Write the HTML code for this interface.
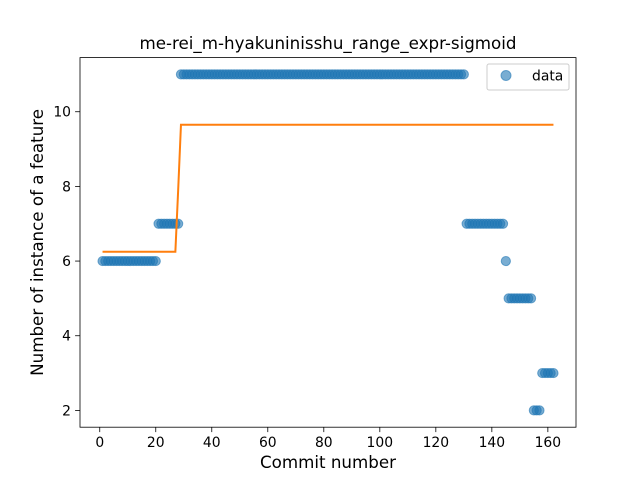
<!DOCTYPE html>
<html><head><meta charset="utf-8"><style>
body{margin:0;background:#fff}
svg text{font-family:"DejaVu Sans","Liberation Sans",sans-serif}
</style></head><body>
<svg id="chart" width="640" height="480" xmlns="http://www.w3.org/2000/svg">
<rect width="640" height="480" fill="#fff"/>
<text x="328" y="49" font-size="16.7" text-anchor="middle">me-rei_m-hyakuninisshu_range_expr-sigmoid</text>
<g id="plot"></g>
<rect x="80" y="57.6" width="496" height="369.6" fill="none" stroke="#000" stroke-width="0.8"/>
<g id="xt"></g>
<g id="yt"></g>
<text x="328" y="468" font-size="16.7" text-anchor="middle">Commit number</text>
<text transform="translate(43,242.4) rotate(-90)" font-size="16.7" text-anchor="middle">Number of instance of a feature</text>
<g>
<rect x="487" y="64" width="82" height="26" rx="2" fill="#fff" fill-opacity="0.8" stroke="#ccc"/>
<circle cx="506" cy="75.5" r="5" fill="#1f77b4" fill-opacity="0.6" stroke="#1f77b4" stroke-opacity="0.6"/>
<text x="532" y="80.5" font-size="13.9">data</text>
</g>
</svg>
<script>
// data as runs: commits segStart..segEnd have value segValue
const segStart = [1, 21, 29, 131, 145, 146, 155, 158];
const segEnd   = [20, 28, 130, 144, 145, 154, 157, 162];
const segValue = [6, 7, 11, 7, 6, 5, 2, 3];
// sigmoid fit as runs
const fitStart = [1, 28, 29];
const fitEnd   = [27, 28, 162];
const fitValue = [6.25, 7.9, 9.65];
const xTicks = [0, 20, 40, 60, 80, 100, 120, 140, 160];
const yTicks = [2, 4, 6, 8, 10];

const X0=80,X1=576,Y0=57.6,Y1=427.2;
const xmin=-7.05,xmax=170.05,ymin=1.55,ymax=11.45;
const sx=v=>X0+(v-xmin)/(xmax-xmin)*(X1-X0);
const sy=v=>Y1-(v-ymin)/(ymax-ymin)*(Y1-Y0);
const NS="http://www.w3.org/2000/svg";
const plot=document.getElementById('plot');
function mk(t,a,p){const e=document.createElementNS(NS,t);for(const k in a)e.setAttribute(k,a[k]);p.appendChild(e);return e;}
for(let s=0;s<segStart.length;s++){
  for(let c=segStart[s];c<=segEnd[s];c++){
    const e=mk('circle',{cx:sx(c),cy:sy(segValue[s]),r:4.6,fill:'#1f77b4','fill-opacity':0.6,stroke:'#1f77b4','stroke-opacity':0.6},plot);
    
    
  }
}
let pts=[];
for(let s=0;s<fitStart.length;s++){for(let c=fitStart[s];c<=fitEnd[s];c++)pts.push(sx(c)+','+sy(fitValue[s]));}
const ln=mk('polyline',{points:pts.join(' '),fill:'none',stroke:'#ff7f0e','stroke-width':2},plot);


const xt=document.getElementById('xt'),yt=document.getElementById('yt');
xTicks.forEach(v=>{
  const l=mk('line',{x1:sx(v),x2:sx(v),y1:Y1,y2:Y1+4.9,stroke:'#000','stroke-width':0.8},xt);
  
  
  const t=mk('text',{x:sx(v),y:Y1+20,'font-size':13.9,'text-anchor':'middle'},xt);t.textContent=v;
  
  
});
yTicks.forEach(v=>{
  const l=mk('line',{x1:X0-4.9,x2:X0,y1:sy(v),y2:sy(v),stroke:'#000','stroke-width':0.8},yt);
  
  
  const t=mk('text',{x:X0-9,y:sy(v)+5,'font-size':13.9,'text-anchor':'end'},yt);t.textContent=v;
  
  
});
</script>
</body></html>
